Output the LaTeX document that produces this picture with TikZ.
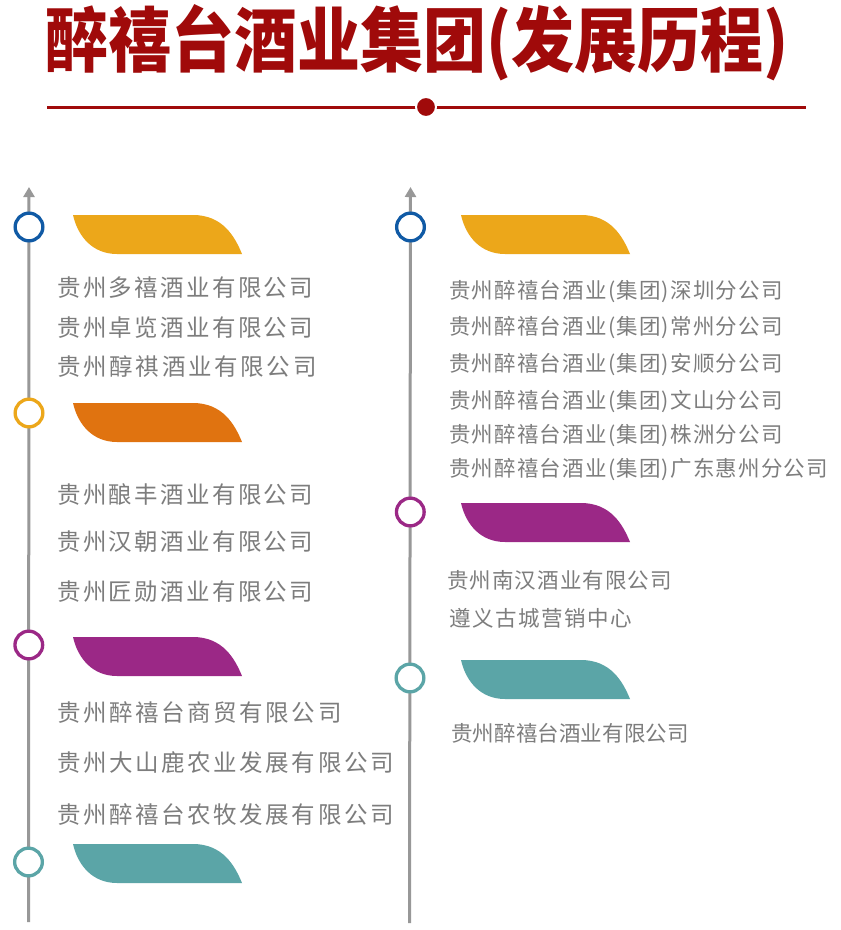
\documentclass[tikz,border=0pt]{standalone}
\usepackage{fontspec}
\usepackage{graphicx}
\setmainfont{Noto Sans CJK SC}
\newfontfamily\cjk{Noto Sans CJK SC}
\usetikzlibrary{arrows.meta}
\definecolor{titlered}{RGB}{160,10,10}
\definecolor{tlblue}{RGB}{16,90,165}
\definecolor{tlgold}{RGB}{236,167,26}
\definecolor{tlorange}{RGB}{224,115,16}
\definecolor{tlpurple}{RGB}{155,40,134}
\definecolor{tlteal}{RGB}{91,165,167}
\definecolor{txtgray}{RGB}{125,125,125}
\definecolor{linegray}{RGB}{152,152,152}
\begin{document}
\begin{tikzpicture}[x=1pt,y=-1pt,
  ring/.style={circle,draw=#1,line width=3.3pt,fill=white,minimum size=27.7pt,inner sep=0pt},
  tline/.style={draw=linegray,line width=3pt,-{Triangle[width=11pt,length=10pt]}},
  item/.style 2 args={anchor=west,inner sep=0pt,text=txtgray,font=\cjk\fontsize{#1}{#1}\selectfont\addfontfeature{LetterSpace=#2}},
  tab/.pic={\fill[pic actions] (0,0) -- (120,0) .. controls (150,0) and (162,22) .. (169,39) -- (44,39) .. controls (20,39) and (5,22) .. (0,0) -- cycle;}
]
\useasboundingbox (0,0) rectangle (841,930);
\fill[white] (0,0) rectangle (841,930);

% title
\node[anchor=west,inner sep=0pt,text=titlered,font=\cjk\bfseries\fontsize{63}{63}\selectfont] (title) at (45,43) {\scalebox{1}[1.12]{醉禧台酒业集团(发展历程)}};
\coordinate (rl) at (47,107);
\coordinate (rr) at (806,107);
\draw[titlered,line width=3pt] (rl) -- (rr);
\node[circle,fill=titlered,draw=white,line width=2pt,minimum size=20pt,inner sep=0pt] (dot) at (426,107) {};

% timelines
\coordinate (Lbot) at (28.5,922);
\coordinate (Ltop) at (29,187);
\coordinate (Rbot) at (409.5,923);
\coordinate (Rtop) at (410.5,187);
\draw[tline] (Lbot) -- (Ltop);
\draw[tline] (Rbot) -- (Rtop);

% left circles and tabs
\node[ring=tlblue] (L1) at (29,227) {};
\node[ring=tlgold] (L2) at (29,413) {};
\node[ring=tlpurple] (L3) at (28.8,645) {};
\node[ring=tlteal] (L4) at (28.5,862) {};
\pic[fill=tlgold] (T1) at (73,215) {tab};
\pic[fill=tlorange] (T2) at (73,403) {tab};
\pic[fill=tlpurple] (T3) at (73,637) {tab};
\pic[fill=tlteal] (T4) at (73,844) {tab};

% right circles and tabs
\node[ring=tlblue] (R1) at (410.5,227) {};
\node[ring=tlpurple] (R2) at (410.3,512) {};
\node[ring=tlteal] (R3) at (410,678) {};
\pic[fill=tlgold] (U1) at (461,215) {tab};
\pic[fill=tlpurple] (U2) at (461,503) {tab};
\pic[fill=tlteal] (U3) at (461,660) {tab};

% left texts
\node[item={23.5}{10}] (a1) at (57,288) {贵州多禧酒业有限公司};
\node[item={23.5}{10}] (a2) at (57,328) {贵州卓览酒业有限公司};
\node[item={23.5}{11.5}] (a3) at (57,367) {贵州醇祺酒业有限公司};
\node[item={23.5}{10}] (b1) at (57,495) {贵州酿丰酒业有限公司};
\node[item={23.5}{10}] (b2) at (57,542) {贵州汉朝酒业有限公司};
\node[item={23.5}{10}] (b3) at (57,592) {贵州匠勋酒业有限公司};
\node[item={23.5}{11}] (c1) at (57,713) {贵州醉禧台商贸有限公司};
\node[item={23.5}{11}] (c2) at (57,763) {贵州大山鹿农业发展有限公司};
\node[item={23.5}{11}] (c3) at (57,815) {贵州醉禧台农牧发展有限公司};

% right texts
\node[item={21.5}{5.6}] (d1) at (449,292) {贵州醉禧台酒业(集团)深圳分公司};
\node[item={21.5}{5.6}] (d2) at (449,328) {贵州醉禧台酒业(集团)常州分公司};
\node[item={21.5}{5.6}] (d3) at (449,365) {贵州醉禧台酒业(集团)安顺分公司};
\node[item={21.5}{5.6}] (d4) at (449,401) {贵州醉禧台酒业(集团)文山分公司};
\node[item={21.5}{5.6}] (d5) at (449,436) {贵州醉禧台酒业(集团)株洲分公司};
\node[item={21.5}{5.6}] (d6) at (449,470) {贵州醉禧台酒业(集团)广东惠州分公司};
\node[item={21.5}{5}] (e1) at (447,580) {贵州南汉酒业有限公司};
\node[item={21.5}{7}] (e2) at (449,618) {遵义古城营销中心};
\node[item={21.5}{0.5}] (f1) at (451,733) {贵州醉禧台酒业有限公司};
\end{tikzpicture}
\end{document}
